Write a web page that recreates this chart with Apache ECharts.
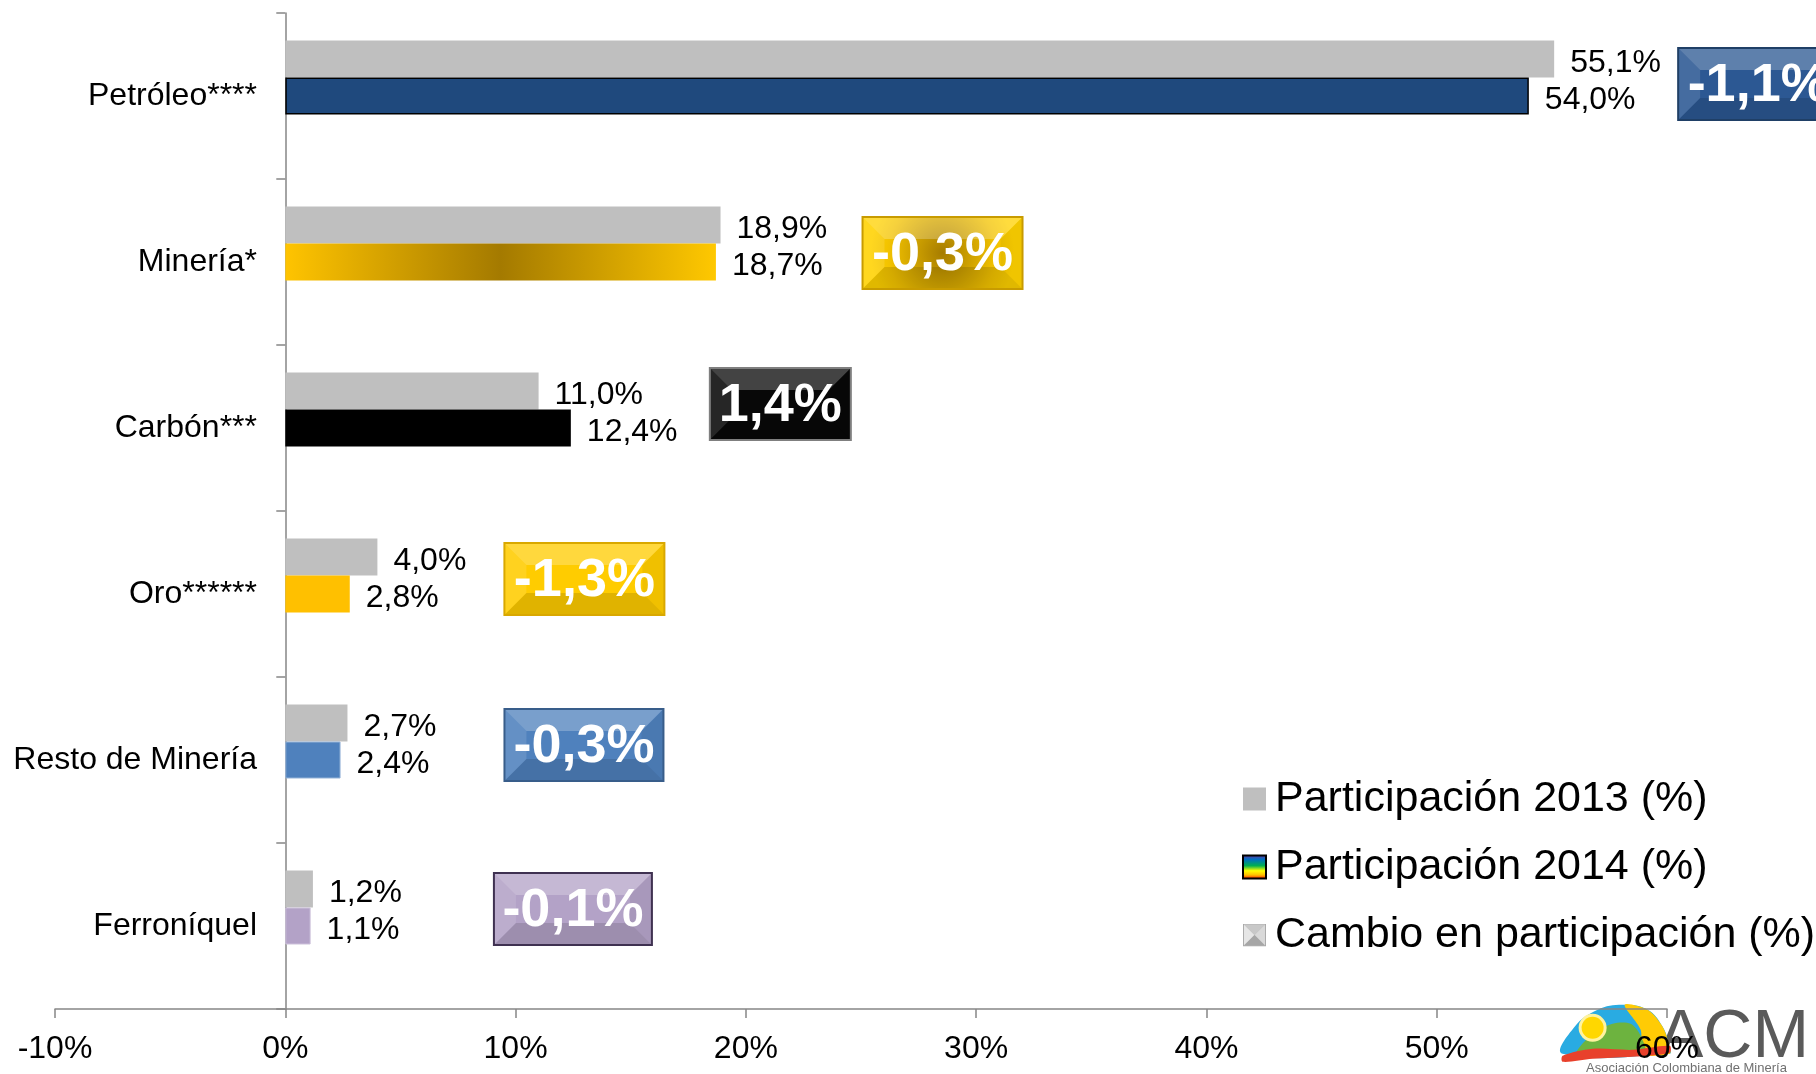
<!DOCTYPE html>
<html>
<head>
<meta charset="utf-8">
<script src="https://cdn.jsdelivr.net/npm/echarts@6/dist/echarts.min.js"></script>
<style>
html,body{margin:0;padding:0;background:#fff;}
#main{width:1816px;height:1074px;}
</style>
</head>
<body>
<div id="main"></div>
<script>
// ---- data ----
const categories = ['Petróleo****', 'Minería*', 'Carbón***', 'Oro******', 'Resto de Minería', 'Ferroníquel'];
const part2013 = [55.1, 18.9, 11.0, 4.0, 2.7, 1.2];
const part2014 = [54.0, 18.7, 12.4, 2.8, 2.4, 1.1];
const cambio = [-1.1, -0.3, 1.4, -1.3, -0.3, -0.1];
const xTicks = [-10, 0, 10, 20, 30, 40, 50, 60];
const seriesNames = ['Participación 2013 (%)', 'Participación 2014 (%)', 'Cambio en participación (%)'];

// ---- styles ----
const G = echarts.graphic;
const FONT = '"Liberation Sans", Arial, sans-serif';
const c2013 = '#BFBFBF';
const style2014 = [
  {color: '#1F497D', borderColor: '#000', borderWidth: 1.5},
  {color: new G.LinearGradient(0, 0, 1, 0, [
    {offset: 0, color: '#FFC400'}, {offset: 0.5, color: '#A47A00'}, {offset: 1, color: '#FFC800'}])},
  {color: '#000000'},
  {color: '#FFC000'},
  {color: '#4F81BD', borderColor: '#95B3D7', borderWidth: 1},
  {color: '#B3A2C7', borderColor: '#CCC1DA', borderWidth: 1}
];
const boxFill = [
  '#2C5893',
  new G.RadialGradient(0.5, 0.5, 1, [{offset: 0, color: '#A67C00'}, {offset: 0.75, color: '#F2C200'}, {offset: 1, color: '#FFD200'}]),
  '#080808',
  '#FFCC00',
  '#4F81BD',
  '#B3A2C7'
];
const boxStroke = ['#1F3F66', '#C89B00', '#7F7F7F', '#D9A800', '#385D8A', '#3F3151'];
const boxGap = [124, 142, 139, 127, 157, 181];   // px right of the longest bar
const boxDy = [-12, -9, -24, -15, -15, -17];     // px from category centre
const boxW = [160, 160, 141, 160, 159, 158];
const boxH = 72;

function pct(v) { return v.toFixed(1).replace('.', ',') + '%'; }

const bevelSvg = "<svg xmlns='http://www.w3.org/2000/svg' width='24' height='24'>" +
  "<rect x='0.5' y='0.5' width='23' height='23' fill='#BFBFBF' stroke='#A6A6A6'/>" +
  "<polygon points='1,1 12,12 1,23' fill='#E6E6E6'/>" +
  "<polygon points='23,1 12,12 23,23' fill='#D9D9D9'/>" +
  "<polygon points='1,1 23,1 12,12' fill='#C8C8C8'/>" +
  "<polygon points='1,23 23,23 12,12' fill='#A6A6A6'/></svg>";
const bevelIcon = 'image://data:image/svg+xml;charset=utf-8,' + encodeURIComponent(bevelSvg);

const chart = echarts.init(document.getElementById('main'), null, {renderer: 'canvas'});

const valueLabel = {show: true, position: 'right', distance: 16, offset: [0, 4], fontSize: 32, color: '#000', fontFamily: FONT,
  formatter: function (p) { return pct(p.value); }};

const option = {
  backgroundColor: '#ffffff',
  animation: false,
  textStyle: {fontFamily: FONT},
  grid: {left: 55, right: 149, top: 13, bottom: 65, containLabel: false, outerBoundsMode: 'none'},
  xAxis: {
    type: 'value',
    min: xTicks[0], max: xTicks[xTicks.length - 1], interval: 10,
    splitLine: {show: false},
    axisLine: {show: true, lineStyle: {color: '#868686', width: 1.5}},
    axisTick: {show: true, length: 9, lineStyle: {color: '#868686', width: 1.5}},
    axisLabel: {fontSize: 32, color: '#000', fontFamily: FONT, margin: 24,
      formatter: function (v) { return v + '%'; }}
  },
  yAxis: {
    type: 'category',
    data: categories,
    inverse: true,
    axisLine: {show: true, onZero: true, lineStyle: {color: '#868686', width: 1.5}},
    axisTick: {show: true, length: 9, lineStyle: {color: '#868686', width: 1.5}},
    axisLabel: {fontSize: 32, color: '#000', fontFamily: FONT, margin: -202, padding: [13, 0, 0, 0]}
  },
  legend: {
    orient: 'vertical',
    left: 1237, top: 771,
    itemWidth: 23, itemHeight: 23, itemGap: 22,
    selectedMode: false,
    textStyle: {fontSize: 43, color: '#000', fontFamily: FONT, lineHeight: 46, padding: [0, 0, 0, 4]},
    data: [
      {name: seriesNames[0], icon: 'rect', itemStyle: {color: c2013}},
      {name: seriesNames[1], icon: 'rect', itemStyle: {
        color: new G.LinearGradient(0, 0, 0, 1, [
          {offset: 0, color: '#7030A0'}, {offset: 0.2, color: '#0070C0'}, {offset: 0.45, color: '#00B050'},
          {offset: 0.65, color: '#FFFF00'}, {offset: 0.82, color: '#FFC000'}, {offset: 1, color: '#FF0000'}]),
        borderColor: '#000', borderWidth: 2}},
      {name: seriesNames[2], icon: bevelIcon}
    ]
  },
  series: [
    {
      name: seriesNames[0], type: 'bar', barWidth: 37, barGap: '0%',
      data: part2013,
      itemStyle: {color: c2013},
      label: valueLabel
    },
    {
      name: seriesNames[1], type: 'bar', barWidth: 37, barGap: '0%',
      data: part2014.map(function (v, i) { return {value: v, itemStyle: style2014[i]}; }),
      label: valueLabel
    },
    {
      name: seriesNames[2], type: 'bar', barWidth: 37, barGap: '0%', silent: true,
      data: cambio,
      itemStyle: {color: 'rgba(0,0,0,0)'},
      label: {show: false}
    },
    {
      name: seriesNames[2], type: 'custom', clip: false, silent: true,
      encode: {x: 0, y: 1},
      data: cambio.map(function (c, i) { return [Math.max(part2013[i], part2014[i]), i, c]; }),
      z: 5,
      renderItem: function (params, api) {
        const i = params.dataIndex;
        const pt = api.coord([api.value(0), api.value(1)]);
        const w = boxW[i], h = boxH, b = 22;
        const x = pt[0] + boxGap[i], y = pt[1] + boxDy[i] - h / 2;
        return {
          type: 'group',
          children: [
            {type: 'rect', shape: {x: x, y: y, width: w, height: h}, style: {fill: boxFill[i]}},
            {type: 'polygon', shape: {points: [[x, y], [x + w, y], [x + w - b, y + b], [x + b, y + b]]},
              style: {fill: 'rgba(255,255,255,0.24)'}},
            {type: 'polygon', shape: {points: [[x, y], [x + b, y + b], [x + b, y + h - b], [x, y + h]]},
              style: {fill: 'rgba(255,255,255,0.12)'}},
            {type: 'polygon', shape: {points: [[x + w, y], [x + w, y + h], [x + w - b, y + h - b], [x + w - b, y + b]]},
              style: {fill: 'rgba(0,0,0,0.06)'}},
            {type: 'polygon', shape: {points: [[x, y + h], [x + b, y + h - b], [x + w - b, y + h - b], [x + w, y + h]]},
              style: {fill: 'rgba(0,0,0,0.12)'}},
            {type: 'rect', shape: {x: x, y: y, width: w, height: h},
              style: {fill: 'none', stroke: boxStroke[i], lineWidth: 2}},
            {type: 'text', style: {x: x + w / 2, y: y + h / 2 + 2, text: pct(api.value(2)), fill: '#fff',
              font: 'bold 54px ' + FONT, align: 'center', verticalAlign: 'middle'}}
          ]
        };
      }
    }
  ],
  graphic: [
    {
      type: 'group', left: 1560, top: 1004, z: -1, silent: true,
      children: [
        {type: 'polygon', shape: {smooth: 0.4, points: [[0, 52], [12, 25], [35, 8], [60, 3], [85, 8], [100, 25], [107, 45], [107, 52]]}, style: {fill: '#29ABE2'}},
        {type: 'polygon', shape: {smooth: 0.3, points: [[62, 3], [85, 8], [100, 25], [107, 45], [107, 52], [80, 52], [78, 28]]}, style: {fill: '#FFCB05'}},
        {type: 'polygon', shape: {smooth: 0.3, points: [[15, 52], [30, 32], [50, 22], [68, 22], [78, 34], [82, 52]]}, style: {fill: '#6DB33F'}},
        {type: 'circle', shape: {cx: 30, cy: 26, r: 14}, style: {fill: '#FFF3A0'}},
        {type: 'circle', shape: {cx: 30, cy: 26, r: 11}, style: {fill: '#FFD700'}},
        {type: 'polygon', shape: {smooth: 0.3, points: [[0, 54], [30, 47], [70, 48], [107, 44], [107, 51], [70, 55], [30, 57], [0, 60]]}, style: {fill: '#E8412C'}}
      ]
    },
    {type: 'text', left: 1658, top: 1004, z: -1, silent: true,
      style: {text: 'ACM', font: '68px ' + FONT, fill: '#5A5A5A'}},
    {type: 'text', left: 1586, top: 1062, z: -1, silent: true,
      style: {text: 'Asociación Colombiana de Minería', font: '13px ' + FONT, fill: '#707070'}}
  ]
};

chart.setOption(option);
</script>
</body>
</html>
